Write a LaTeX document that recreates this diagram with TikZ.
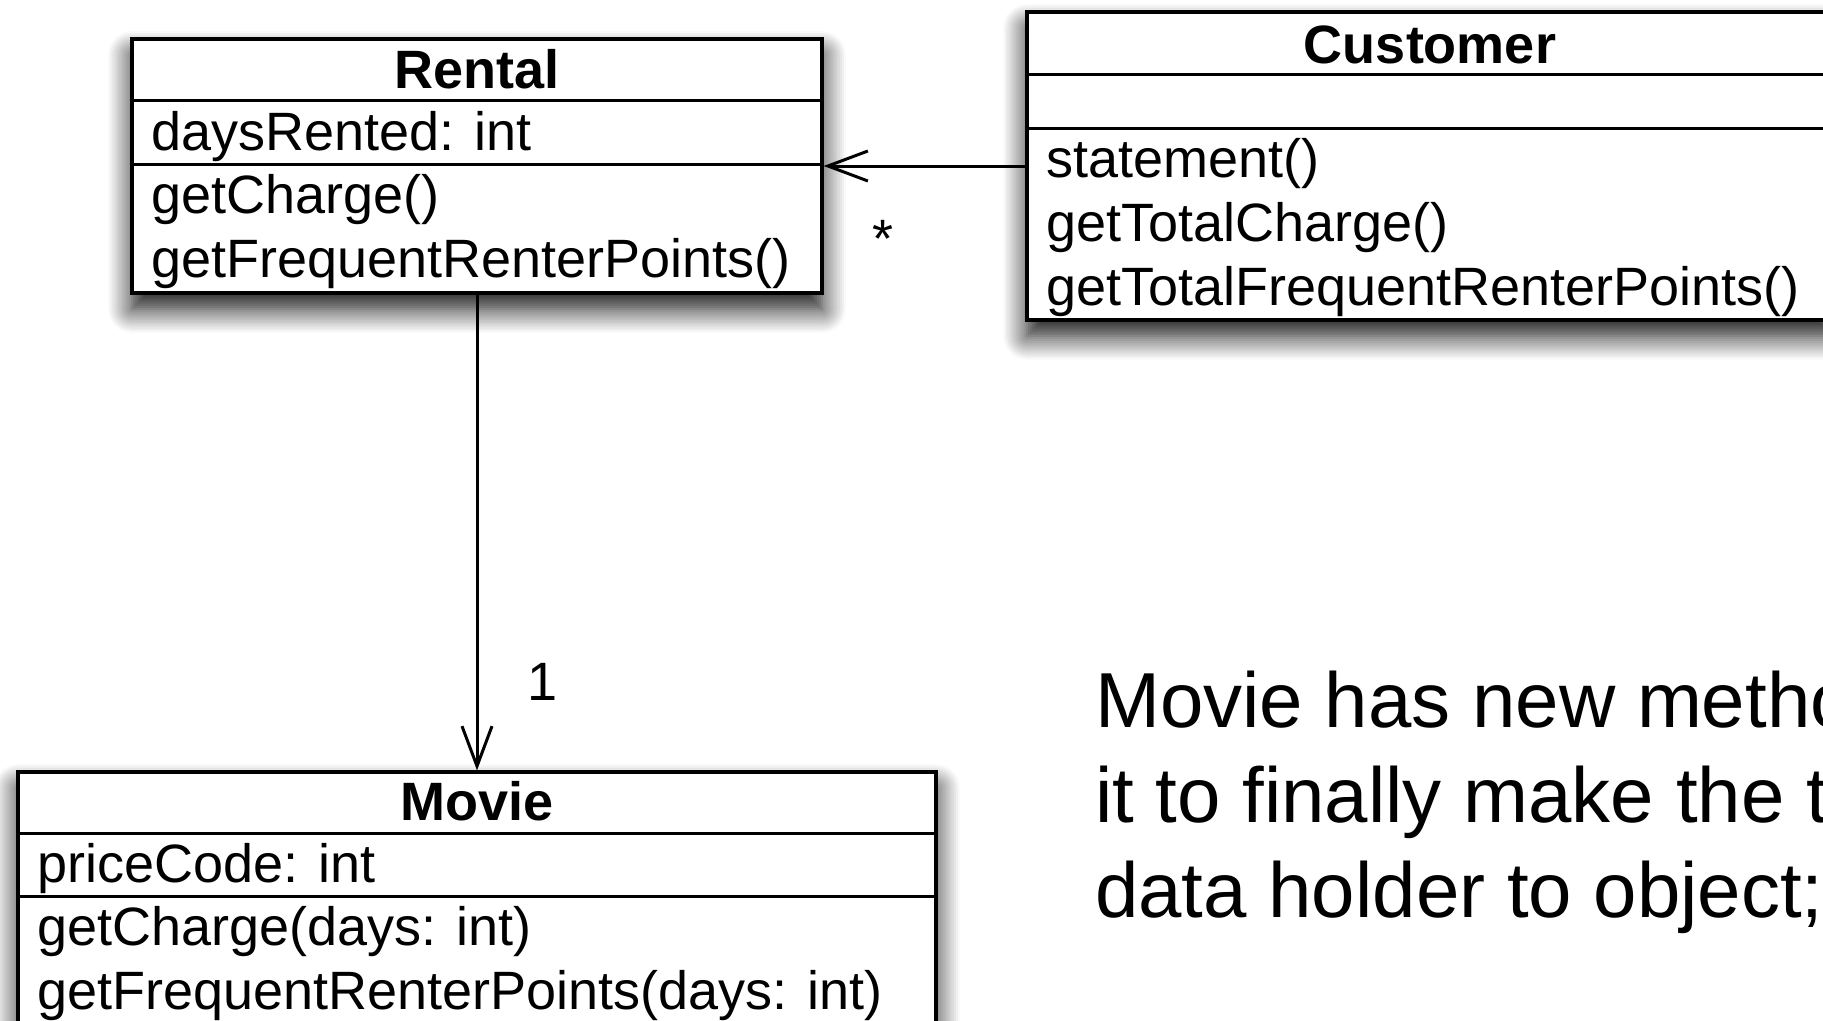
\documentclass[tikz,border=0pt]{standalone}
\usepackage{fontspec}
\setmainfont{Liberation Sans}
\usetikzlibrary{arrows.meta, positioning, shadows.blur}

\begin{document}
\begin{tikzpicture}[
  x=1pt, y=-1pt,
  umlbox/.style={
    rectangle, draw=black, fill=white, line width=3.2pt,
    inner sep=0pt,
    blur shadow={shadow xshift=0pt, shadow yshift=-16pt,
      shadow blur radius=24pt, shadow blur steps=12, shadow opacity=95}
  },
  classname/.style={
    anchor=base, inner sep=0pt,
    font=\fontsize{54}{64}\selectfont\bfseries
  },
  member/.style={
    anchor=base west, inner sep=0pt,
    font=\fontsize{54}{64}\selectfont
  },
  divider/.style={line width=3.2pt},
  assoc/.style={
    -{Straight Barb[length=40pt, width=30pt]}, line width=3pt
  },
  mult/.style={inner sep=0pt, font=\fontsize{54}{64}\selectfont},
  note/.style={
    anchor=base west, inner sep=0pt,
    font=\fontsize{78}{95}\selectfont
  }
]
  \useasboundingbox (0,0) rectangle (1823,1020);

  % class boxes
  \node[umlbox, minimum width=690pt, minimum height=254pt] (rental) at (477,166) {};
  \node[umlbox, minimum width=806pt, minimum height=308pt] (customer) at (1430,166) {};
  \node[umlbox, minimum width=918pt, minimum height=251pt] (movie) at (477,897.5) {};

  % compartments
  \draw[divider] ([yshift=-63pt]rental.north west) -- ([yshift=-63pt]rental.north east);
  \draw[divider] ([yshift=-127pt]rental.north west) -- ([yshift=-127pt]rental.north east);
  \draw[divider] ([yshift=-64pt]customer.north west) -- ([yshift=-64pt]customer.north east);
  \draw[divider] ([yshift=-118pt]customer.north west) -- ([yshift=-118pt]customer.north east);
  \draw[divider] ([yshift=-63pt]movie.north west) -- ([yshift=-63pt]movie.north east);
  \draw[divider] ([yshift=-126pt]movie.north west) -- ([yshift=-126pt]movie.north east);

  % Rental
  \node[classname] (rental-name) at (477,88) {Rental};
  \node[member] (rental-attr) at (151,150) {daysRented: int};
  \node[member] (rental-op1) at (151,213) {getCharge()};
  \node[member] (rental-op2) at (151,277) {getFrequentRenterPoints()};

  % Customer
  \node[classname] (customer-name) at (1430,63) {Customer};
  \foreach \op [count=\i] in {statement(), getTotalCharge(), getTotalFrequentRenterPoints()}
    \node[member] (customer-op\i) at (1046,{177+64*(\i-1)}) {\op};

  % Movie
  \node[classname] (movie-name) at (477,820) {Movie};
  \node[member] (movie-attr) at (37,882) {priceCode: int};
  \node[member] (movie-op1) at (37,945) {getCharge(days: int)};
  \node[member] (movie-op2) at (37,1009) {getFrequentRenterPoints(days: int)};

  % associations
  \draw[assoc] (customer) -- (rental)
    node[pos=0.706, yshift=-73pt, mult] (many) {*};
  \draw[assoc] (rental) -- (movie)
    node[pos=0.813, xshift=66pt, mult] (one) {1};

  % side note
  \foreach \txt [count=\i] in {Movie has new metho, it to finally make the t, {data holder to object;}}
    \node[note] (note\i) at (1095,{727+95*(\i-1)}) {\txt};
\end{tikzpicture}
\end{document}
